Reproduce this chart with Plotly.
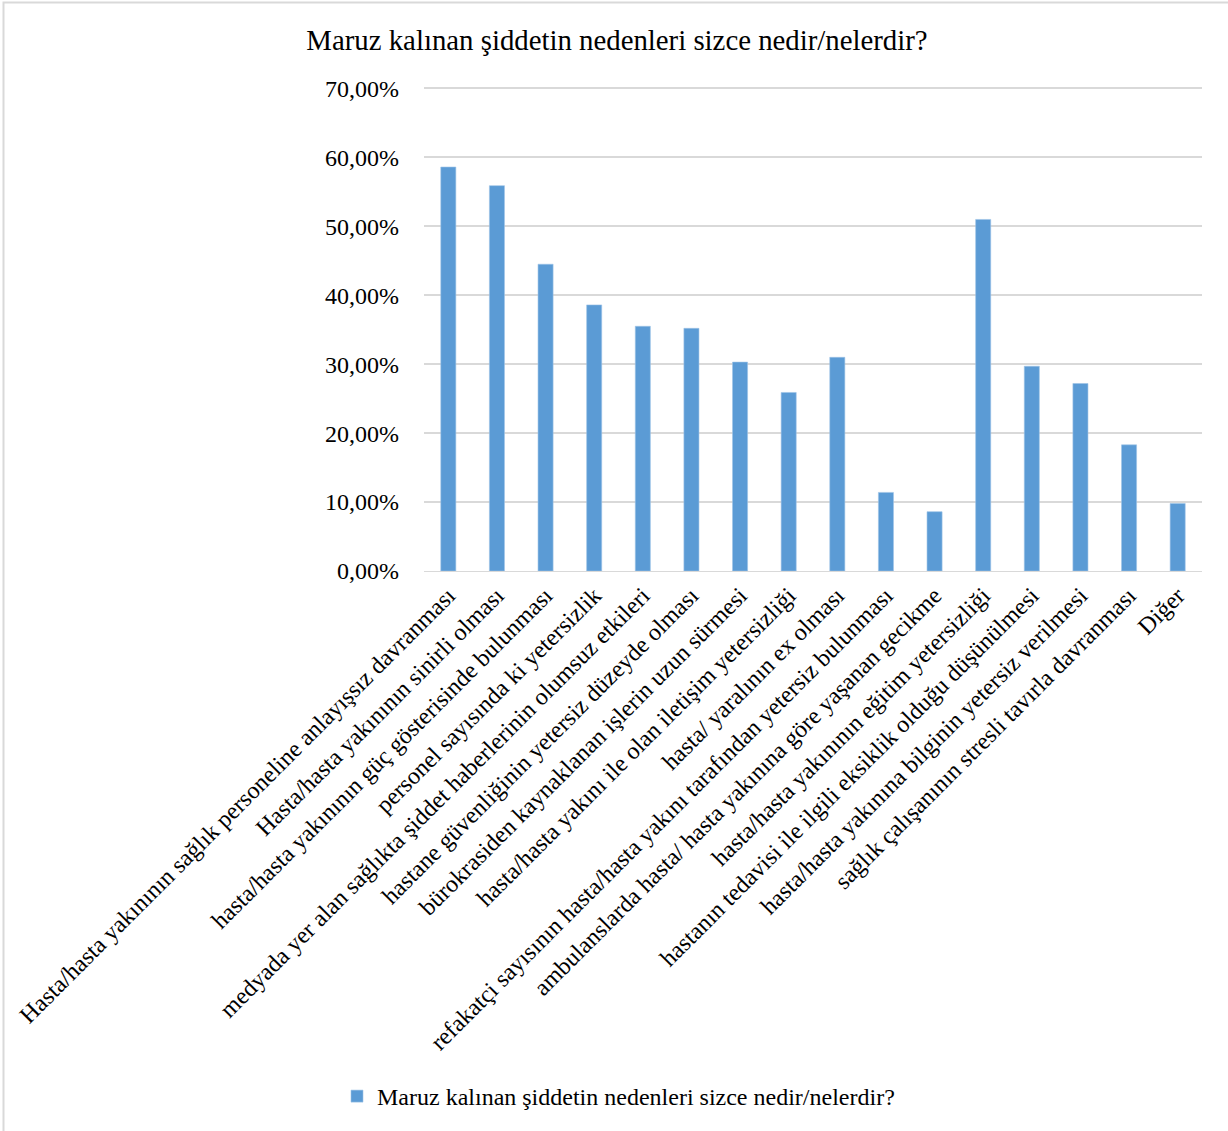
import plotly.graph_objects as go

title_text = "Maruz kalınan şiddetin nedenleri sizce nedir/nelerdir?"
categories = [
    "Hasta/hasta yakınının sağlık personeline anlayışsız davranması",
    "Hasta/hasta yakınının sinirli olması",
    "hasta/hasta yakınının güç gösterisinde bulunması",
    "personel sayısında ki yetersizlik",
    "medyada yer alan sağlıkta şiddet haberlerinin olumsuz etkileri",
    "hastane güvenliğinin yetersiz düzeyde olması",
    "bürokrasiden kaynaklanan işlerin uzun sürmesi",
    "hasta/hasta yakını ile olan iletişim yetersizliği",
    "hasta/ yaralının ex olması",
    "refakatçi sayısının hasta/hasta yakını tarafından yetersiz bulunması",
    "ambulanslarda hasta/ hasta yakınına göre yaşanan gecikme",
    "hasta/hasta yakınının eğitim yetersizliği",
    "hastanın tedavisi ile ilgili eksiklik olduğu düşünülmesi",
    "hasta/hasta yakınına bilginin yetersiz verilmesi",
    "sağlık çalışanının stresli tavırla davranması",
    "Diğer",
]
values_pct = [58.6, 55.9, 44.5, 38.6, 35.5, 35.2, 30.3, 25.9, 31.0, 11.4, 8.6, 51.0, 29.7, 27.2, 18.3, 9.8]
tick_vals = [0, 0.1, 0.2, 0.3, 0.4, 0.5, 0.6, 0.7]

values = [v / 100 for v in values_pct]

FONT = "Liberation Serif, Times New Roman, serif"

fig = go.Figure()
fig.add_trace(go.Bar(
    x=categories,
    y=values,
    name=title_text,
    marker=dict(color="#5B9BD5", line=dict(color="#9DC3E6", width=0.6)),
    showlegend=True,
))

W, H = 1228, 1131
L, R, B = 424, 1202, 571
YMAX = 0.705
T = B - (B - 88) * YMAX / 0.7
pw, ph = R - L, B - T

fig.update_layout(
    width=W, height=H,
    autosize=False,
    margin=dict(l=L, r=W - R, t=T, b=H - B, pad=0),
    paper_bgcolor="white",
    plot_bgcolor="white",
    separators=",.",
    font=dict(family=FONT, size=24, color="black"),
    title=dict(text=title_text, x=617 / W, xanchor="center", y=1 - 40 / H, yanchor="middle",
               font=dict(family=FONT, size=28.8, color="black")),
    bargap=0.69,
    showlegend=True,
    legend=dict(orientation="h", x=(337 - L) / pw, xanchor="left", y=(B - 1097) / ph, yanchor="middle",
                font=dict(family=FONT, size=24, color="black"), itemwidth=30),
    xaxis=dict(tickangle=-45, showgrid=False, showline=True, linecolor="#D9D9D9", linewidth=1,
               ticks="", tickfont=dict(family=FONT, size=24, color="black"), automargin=False),
    yaxis=dict(range=[0, YMAX], tickvals=tick_vals, tickformat=".2%", showgrid=True,
               gridcolor="#D9D9D9", gridwidth=1.5, zeroline=False, showline=False, ticks="",
               ticklabelstandoff=24,
               tickfont=dict(family=FONT, size=24, color="black"), automargin=False),
    shapes=[dict(type="rect", xref="paper", yref="paper",
                 x0=(3.5 - L) / pw, x1=(W + 10 - L) / pw,
                 y0=(B - H - 10) / ph, y1=(B - 2) / ph,
                 line=dict(color="#D9D9D9", width=2), fillcolor="rgba(0,0,0,0)", layer="below")],
)

fig.write_html("out.html")
